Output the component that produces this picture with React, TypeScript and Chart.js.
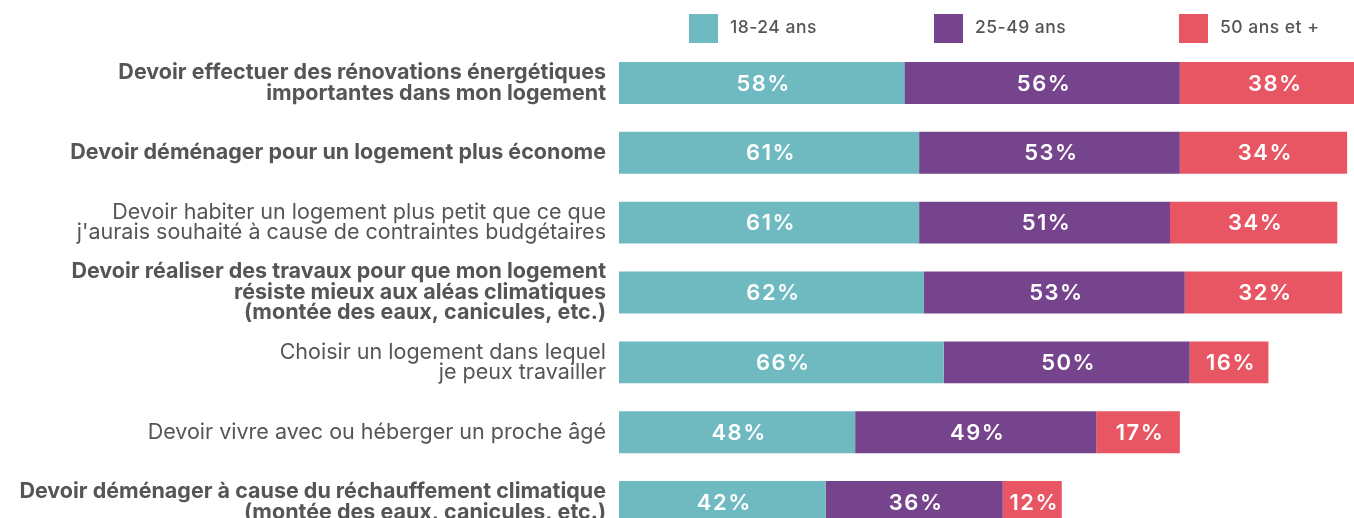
import React, { useEffect, useRef } from "react";
import { Chart, registerables } from "chart.js";
Chart.register(...registerables);

const categories: string[][] = [
  ["Devoir effectuer des rénovations énergétiques", "importantes dans mon logement"],
  ["Devoir déménager pour un logement plus économe"],
  ["Devoir habiter un logement plus petit que ce que", "j'aurais souhaité à cause de contraintes budgétaires"],
  ["Devoir réaliser des travaux pour que mon logement", "résiste mieux aux aléas climatiques", "(montée des eaux, canicules, etc.)"],
  ["Choisir un logement dans lequel", "je peux travailler"],
  ["Devoir vivre avec ou héberger un proche âgé"],
  ["Devoir déménager à cause du réchauffement climatique", "(montée des eaux, canicules, etc.)"],
];
const boldRows = [true, true, false, true, false, false, true];
const seriesNames = ["18-24 ans", "25-49 ans", "50 ans et +"];
const age18to24 = [58, 61, 61, 62, 66, 48, 42];
const age25to49 = [56, 53, 51, 53, 50, 49, 36];
const age50plus = [38, 34, 34, 32, 16, 17, 12];
const seriesColors = ["#6fb9c0", "#76448c", "#e85563"];

const FONT = "Inter, 'DejaVu Sans', sans-serif";
const TEXT = "#555555";

const valueLabels = {
  id: "valueLabels",
  afterDatasetsDraw(chart: any) {
    const ctx = chart.ctx;
    ctx.save();
    ctx.fillStyle = "#ffffff";
    ctx.font = `600 22px ${FONT}`;
    (ctx as any).letterSpacing = "1.5px";
    ctx.textAlign = "center";
    ctx.textBaseline = "middle";
    chart.data.datasets.forEach((ds: any, di: number) => {
      const meta = chart.getDatasetMeta(di);
      meta.data.forEach((bar: any, i: number) => {
        const cx = (bar.x + bar.base) / 2;
        ctx.fillText(`${ds.data[i]}%`, cx + 2, bar.y + 1);
      });
    });
    ctx.restore();
  },
};

const topLegend = {
  id: "topLegend",
  afterDraw(chart: any) {
    const ctx = chart.ctx;
    ctx.save();
    ctx.font = `500 17.5px ${FONT}`;
    (ctx as any).letterSpacing = "0.5px";
    ctx.textAlign = "left";
    ctx.textBaseline = "middle";
    chart.data.datasets.forEach((ds: any, i: number) => {
      const x = 689 + i * 245;
      ctx.fillStyle = ds.backgroundColor;
      ctx.fillRect(x, 14, 29, 29);
      ctx.fillStyle = TEXT;
      ctx.fillText(ds.label, x + 41, 28);
    });
    ctx.restore();
  },
};

export default function App() {
  const ref = useRef<HTMLCanvasElement | null>(null);
  useEffect(() => {
    if (!ref.current) return;
    const data = [age18to24, age25to49, age50plus];
    const chart = new Chart(ref.current, {
      type: "bar",
      data: {
        labels: categories,
        datasets: seriesNames.map((name, i) => ({
          label: name,
          data: data[i],
          backgroundColor: seriesColors[i],
          borderWidth: 0,
          barPercentage: 0.6,
          categoryPercentage: 1,
        })),
      },
      options: {
        indexAxis: "y",
        animation: false,
        responsive: false,
        maintainAspectRatio: false,
        layout: { autoPadding: false, padding: { top: 48, right: 0, bottom: 3, left: 0 } },
        plugins: {
          legend: { display: false },
          tooltip: { enabled: false },
        },
        scales: {
          x: {
            stacked: true,
            min: 0,
            max: 149.4,
            display: false,
          },
          y: {
            stacked: true,
            grid: { display: false, drawTicks: false },
            border: { display: false },
            ticks: {
              padding: 13,
              color: TEXT,
              autoSkip: false,
              font: (c: any) => ({
                family: FONT,
                size: 21.5,
                weight: boldRows[c.index] ? "bold" : "normal",
                lineHeight: "20.5px",
              }),
            },
            afterFit: (scale: any) => {
              scale.width = 619;
              scale.paddingTop = 0;
              scale.paddingBottom = 0;
            },
          },
        },
      },
      plugins: [valueLabels, topLegend],
    });
    return () => chart.destroy();
  }, []);
  return (
    <div style={{ position: "fixed", left: 0, top: 0, width: 1354, height: 518, overflow: "hidden", background: "#fff" }}>
      <canvas ref={ref} width={1354} height={540} style={{ display: "block", width: 1354, height: 540 }} />
    </div>
  );
}
